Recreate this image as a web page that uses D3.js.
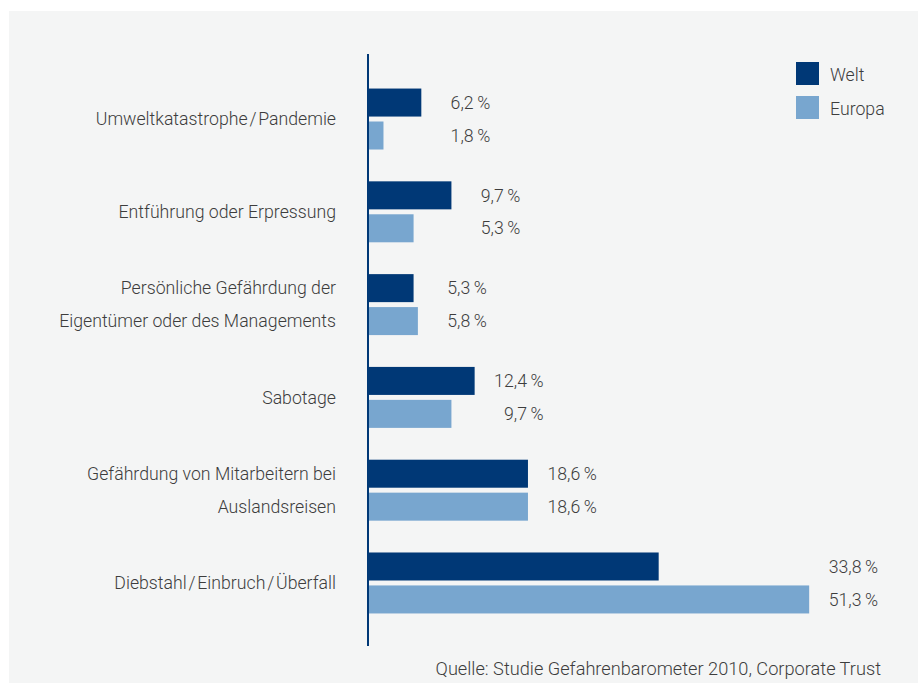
<!DOCTYPE html>
<html>
<head>
<meta charset="utf-8">
<script src="https://cdn.jsdelivr.net/npm/d3@7"></script>
<style>
  body { margin: 0; background: #fff; }
  svg { display: block; font-family: Roboto, "Open Sans", sans-serif; font-weight: 300; }
</style>
</head>
<body>
<script>
let width = 918;
let height = 683;

// data
let categories = [
  ["Umweltkatastrophe\u200A/\u200APandemie"],
  ["Entführung oder Erpressung"],
  ["Persönliche Gefährdung der", "Eigentümer oder des Managements"],
  ["Sabotage"],
  ["Gefährdung von Mitarbeitern bei", "Auslandsreisen"],
  ["Diebstahl\u200A/\u200AEinbruch\u200A/\u200AÜberfall"]
];
let series = ["Welt", "Europa"];
let welt = [6.2, 9.7, 5.3, 12.4, 18.6, 33.8];
let europa = [1.8, 5.3, 5.8, 9.7, 18.6, 51.3];
let source = "Quelle: Studie Gefahrenbarometer 2010, Corporate Trust";

let colors = {Welt: "#003876", Europa: "#78a6cf"};
let textColor = "#3d3d3d";
let fontSize = "17.7px";

let svg = d3.select("body").append("svg").attr("width", width).attr("height", height);

svg.append("rect").attr("x", 9).attr("y", 11).attr("width", width - 9).attr("height", height - 11).attr("fill", "#f4f5f5");

let x = d3.scaleLinear().domain([0, 60]).range([368, 368 + 516]);
let y = d3.scaleBand().domain(d3.range(categories.length)).range([57, 645]).paddingInner(0.343).paddingOuter(0.34);
let ySub = d3.scaleBand().domain(series).range([0, y.bandwidth()]).paddingInner(0.15);

let fmt = (v) => d3.format(".1f")(v).replace(".", ",") + "\u2009%";

let groups = svg.selectAll(".group").data(categories.map((c, i) => ({label: c, values: [welt[i], europa[i]], i: i})))
  .enter().append("g").attr("class", "group").attr("transform", (d) => "translate(0," + y(d.i) + ")");

groups.selectAll("rect").data((d) => d.values.map((v, j) => ({key: series[j], v: v})))
  .enter().append("rect")
  .attr("x", x(0))
  .attr("y", (d) => ySub(d.key))
  .attr("width", (d) => x(d.v) - x(0))
  .attr("height", ySub.bandwidth())
  .attr("fill", (d) => colors[d.key]);

// value labels, right aligned a little past the longer bar
groups.each(function (d) {
  let g = d3.select(this);
  let right = x(d3.max(d.values)) + 69;
  d.values.forEach((v, j) => {
    g.append("text").attr("x", right).attr("y", ySub(series[j]) + ySub.bandwidth() / 2)
      .attr("dy", "0.35em").attr("text-anchor", "end").attr("fill", textColor)
      .style("font-size", fontSize).text(fmt(v));
  });
  // category labels
  let lines = d.label;
  lines.forEach((t, k) => {
    let cy = lines.length === 1 ? y.bandwidth() / 2 : ySub(series[k]) + ySub.bandwidth() / 2;
    g.append("text").attr("x", 336).attr("y", cy).attr("dy", "0.35em")
      .attr("text-anchor", "end").attr("fill", textColor).style("font-size", fontSize).text(t);
  });
});

// axis line
svg.append("line").attr("x1", 368).attr("x2", 368).attr("y1", 54).attr("y2", 646)
  .attr("stroke", "#003876").attr("stroke-width", 2);

// legend
let legend = svg.selectAll(".legend").data(series).enter().append("g").attr("class", "legend")
  .attr("transform", (d, i) => "translate(796," + (62 + i * 34) + ")");
legend.append("rect").attr("width", 23).attr("height", 23).attr("fill", (d) => colors[d]);
legend.append("text").attr("x", 34).attr("y", 12.5).attr("dy", "0.35em").attr("fill", textColor)
  .style("font-size", fontSize).text((d) => d);

svg.append("text").attr("x", 881).attr("y", 675).attr("text-anchor", "end").attr("fill", textColor)
  .style("font-size", "18.2px").text(source);
</script>
</body>
</html>
